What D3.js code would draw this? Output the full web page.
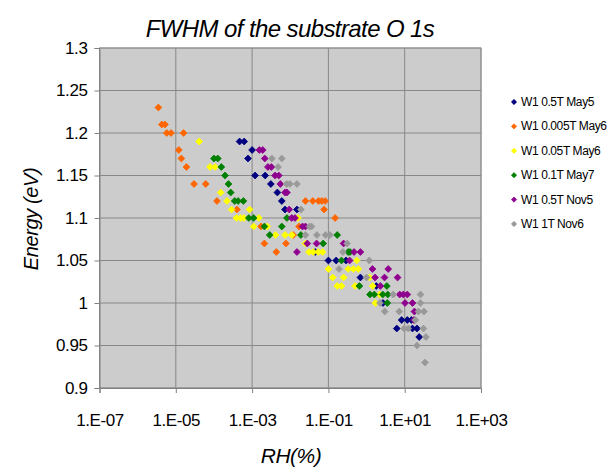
<!DOCTYPE html>
<html>
<head>
<meta charset="utf-8">
<script src="https://cdn.jsdelivr.net/npm/d3@7"></script>
<style>
  html, body { margin: 0; padding: 0; background: #fff; }
  svg { display: block; font-family: "Liberation Sans", Arial, sans-serif; }
</style>
</head>
<body>
<svg id="chart" width="610" height="470"></svg>
<script>
// ---------------- DATA ----------------
const seriesNames = ["W1 0.5T May5", "W1 0.005T May6", "W1 0.05T May6", "W1 0.1T May7", "W1 0.5T Nov5", "W1 1T Nov6"];
const seriesColors = ["#000080", "#FF6600", "#FFFF00", "#008000", "#8f008f", "#999999"];

const may5X = [4.7e-4, 6.2e-4, 1.0e-3, 7.8e-4, 1.2e-3, 2.2e-3, 3.1e-3, 4.6e-3, 6.0e-3, 7.3e-3, 1.5e-2, 4.5e-2, 0.1, 0.16, 0.29, 0.69, 1.8, 2.7, 8.3, 11.7, 15, 6.2, 16, 21, 24];
const may5Y = [1.19, 1.19, 1.18, 1.17, 1.15, 1.15, 1.14, 1.13, 1.12, 1.11, 1.11, 1.06, 1.05, 1.05, 1.05, 1.03, 1.02, 1.00, 0.98, 0.98, 0.98, 0.97, 0.97, 0.97, 0.96];

const may6aX = [3.5e-6, 4.3e-6, 5.2e-6, 5.8e-6, 7.5e-6, 1.6e-5, 1.2e-5, 1.4e-5, 1.9e-5, 3.0e-5, 6.1e-5, 1.2e-4, 4.0e-4, 1.7e-3, 2.1e-3, 7.7e-3, 4.3e-3, 1.2e-2, 1.7e-2, 2.5e-2, 3.9e-2, 5.5e-2, 6.7e-2, 8.2e-2, 7.7e-2, 0.15];
const may6aY = [1.23, 1.21, 1.21, 1.20, 1.20, 1.20, 1.18, 1.17, 1.16, 1.14, 1.14, 1.12, 1.11, 1.09, 1.07, 1.07, 1.06, 1.08, 1.09, 1.12, 1.12, 1.12, 1.12, 1.12, 1.11, 1.10];

const may6bX = [4.1e-5, 7.9e-5, 1.07e-4, 1.5e-4, 2.2e-4, 2.9e-4, 8.6e-4, 3.9e-4, 5.0e-4, 6.1e-4, 1.5e-3, 1.6e-2, 1.1e-3, 2.5e-3, 4.1e-3, 7.3e-3, 1.1e-2, 2.5e-2, 3.1e-2, 4.0e-2, 5.4e-2, 7.1e-2, 0.55, 0.10, 0.33, 0.45, 0.61, 0.13, 0.25, 1.2, 0.17, 0.22, 0.50, 1.45, 2.2, 1.7];
const may6bY = [1.19, 1.16, 1.16, 1.13, 1.12, 1.11, 1.11, 1.10, 1.10, 1.10, 1.10, 1.10, 1.09, 1.09, 1.08, 1.08, 1.08, 1.07, 1.06, 1.06, 1.06, 1.06, 1.05, 1.04, 1.04, 1.04, 1.04, 1.03, 1.03, 1.03, 1.02, 1.02, 1.02, 1.02, 1.01, 1.00];

const may7X = [1.0e-4, 1.26e-4, 1.56e-4, 1.95e-4, 2.4e-4, 2.75e-4, 3.5e-4, 4.3e-4, 5.9e-4, 8.2e-4, 1.1e-3, 8.2e-3, 2.1e-3, 6.0e-3, 2.9e-3, 1.9e-2, 0.17, 7.3e-2, 0.33, 0.37, 0.22, 0.65, 3.4, 1.23, 1.6, 2.65, 3.6, 3.5];
const may7Y = [1.17, 1.17, 1.16, 1.15, 1.14, 1.13, 1.12, 1.12, 1.12, 1.10, 1.10, 1.10, 1.09, 1.09, 1.08, 1.08, 1.08, 1.07, 1.06, 1.06, 1.05, 1.02, 1.02, 1.01, 1.01, 1.01, 1.01, 1.00];

const nov5X = [1.55e-3, 1.9e-3, 2.15e-3, 2.6e-3, 3.2e-3, 4.0e-3, 5.0e-3, 5.5e-3, 7.3e-3, 8.2e-3, 9.4e-3, 1.09e-2, 1.33e-2, 2.1e-2, 2.5e-2, 2.8e-2, 4.9e-2, 0.25, 1.5e-2, 0.47, 0.69, 0.36, 1.43, 3.7, 1.67, 2.96, 6.5, 2.3, 7.4, 9.2, 11.7, 10.2, 16, 18, 17.5];
const nov5Y = [1.18, 1.18, 1.17, 1.16, 1.16, 1.15, 1.15, 1.14, 1.13, 1.13, 1.11, 1.10, 1.10, 1.09, 1.09, 1.07, 1.07, 1.07, 1.06, 1.06, 1.06, 1.05, 1.04, 1.04, 1.03, 1.03, 1.03, 1.02, 1.01, 1.01, 1.01, 1.00, 1.00, 0.99, 0.98];

const nov6X = [3.3e-3, 6.0e-3, 4.8e-3, 8.0e-3, 9.8e-3, 1.5e-2, 1.9e-2, 3.2e-2, 3.6e-2, 2.5e-2, 5.0e-2, 8.4e-2, 0.11, 0.31, 0.24, 1.18, 0.19, 1.0, 5.0, 26, 2.25, 26, 3.0, 7.2, 23, 32, 19, 9.7, 12.4, 31, 36, 21, 34];
const nov6Y = [1.17, 1.17, 1.16, 1.14, 1.14, 1.14, 1.11, 1.09, 1.09, 1.08, 1.08, 1.08, 1.08, 1.07, 1.06, 1.05, 1.04, 1.03, 1.01, 1.01, 1.00, 1.00, 0.99, 0.99, 0.99, 0.99, 0.98, 0.97, 0.97, 0.97, 0.96, 0.95, 0.93];

const xTicks = [1e-7, 1e-5, 1e-3, 1e-1, 1e1, 1e3];
const yTicks = [0.9, 0.95, 1.0, 1.05, 1.1, 1.15, 1.2, 1.25, 1.3];

const titleText = "FWHM of the substrate O 1s";
const xTitle = "RH(%)";
const yTitle = "Energy (eV)";

// ---------------- CHART ----------------
const seriesX = [may5X, may6aX, may6bX, may7X, nov5X, nov6X];
const seriesY = [may5Y, may6aY, may6bY, may7Y, nov5Y, nov6Y];

const svg = d3.select("#chart");
const plot = { left: 99.5, right: 481, top: 48, bottom: 388 };

const x = d3.scaleLog().domain([1e-7, 1e3]).range([plot.left, plot.right]);
const y = d3.scaleLinear().domain([0.9, 1.3]).range([plot.bottom, plot.top]);

// plot background
svg.append("rect")
  .attr("x", plot.left).attr("y", plot.top)
  .attr("width", plot.right - plot.left).attr("height", plot.bottom - plot.top)
  .attr("fill", "#cccccc").attr("stroke", "#a0a0a0").attr("stroke-width", 1);

// gridlines
svg.append("g").selectAll("line").data(yTicks).join("line")
  .attr("x1", plot.left).attr("x2", plot.right)
  .attr("y1", d => y(d)).attr("y2", d => y(d))
  .attr("stroke", "#888888").attr("stroke-width", 1);
svg.append("g").selectAll("line").data(xTicks).join("line")
  .attr("y1", plot.top).attr("y2", plot.bottom)
  .attr("x1", d => x(d)).attr("x2", d => x(d))
  .attr("stroke", "#888888").attr("stroke-width", 1);

// axes
const fmtX = v => {
  const e = Math.round(Math.log10(v));
  return "1.E" + (e < 0 ? "-" : "+") + String(Math.abs(e)).padStart(2, "0");
};
const fmtY = v => String(+v.toFixed(2));

const gx = svg.append("g").attr("transform", `translate(0,${plot.bottom})`)
  .call(d3.axisBottom(x).tickValues(xTicks).tickFormat(fmtX).tickSize(5).tickPadding(21));
const gy = svg.append("g").attr("transform", `translate(${plot.left},0)`)
  .call(d3.axisLeft(y).tickValues(yTicks).tickFormat(fmtY).tickSize(5).tickPadding(7));
[gx, gy].forEach(g => {
  g.select(".domain").attr("stroke", "#808080");
  g.selectAll(".tick line").attr("stroke", "#808080");
  g.selectAll(".tick text").attr("fill", "#000").attr("font-size", 17)
    .attr("font-family", "'Liberation Sans', Arial, sans-serif").attr("letter-spacing", -0.4);
});

// markers
const diamond = d3.symbol().type(d3.symbolSquare).size(23);
seriesX.forEach((xs, i) => {
  const pts = xs.map((v, j) => [v, seriesY[i][j]]);
  svg.append("g").selectAll("path").data(pts).join("path")
    .attr("d", diamond)
    .attr("transform", d => `translate(${x(d[0])},${y(d[1])}) rotate(45)`)
    .attr("fill", seriesColors[i])
    .attr("stroke", seriesColors[i]).attr("stroke-width", 0.8);
});

// title
svg.append("text").attr("x", 290).attr("y", 37)
  .attr("text-anchor", "middle").attr("font-size", 24).attr("font-style", "italic")
  .attr("letter-spacing", -0.6).text(titleText);

// axis titles
svg.append("text").attr("x", 291).attr("y", 463)
  .attr("text-anchor", "middle").attr("font-size", 21).attr("font-style", "italic")
  .attr("letter-spacing", -0.5).text(xTitle);
svg.append("text").attr("transform", "translate(38,219) rotate(-90)")
  .attr("text-anchor", "middle").attr("font-size", 20).attr("font-style", "italic")
  .attr("letter-spacing", -0.4).text(yTitle);

// legend
const legend = svg.append("g");
seriesNames.forEach((name, i) => {
  const ly = 102 + i * 24.4;
  legend.append("path").attr("d", d3.symbol().type(d3.symbolSquare).size(14))
    .attr("transform", `translate(514,${ly}) rotate(45)`)
    .attr("fill", seriesColors[i]).attr("stroke", seriesColors[i]).attr("stroke-width", 0.6);
  legend.append("text").attr("x", 521).attr("y", ly + 4)
    .attr("font-size", 12).attr("letter-spacing", -0.4).text(name);
});
</script>
</body>
</html>
